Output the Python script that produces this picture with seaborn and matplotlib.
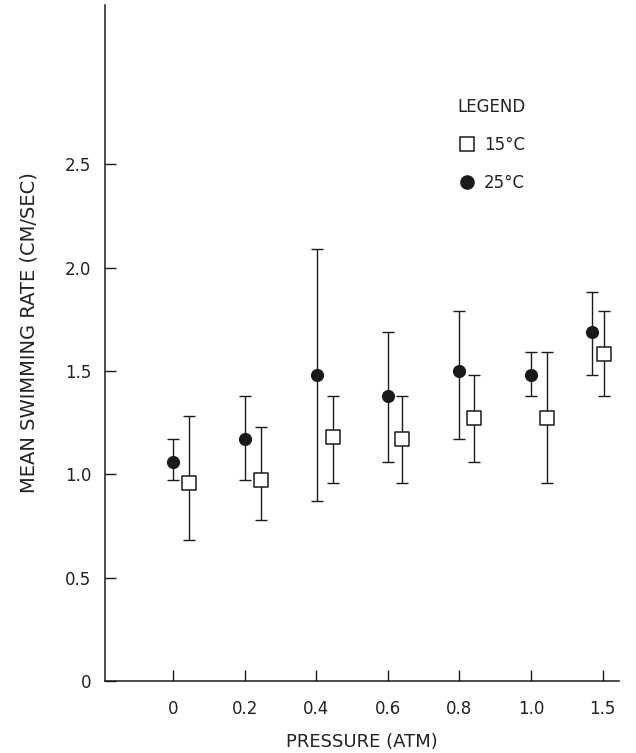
import numpy as np
import pandas as pd
import matplotlib
matplotlib.use("Agg")
import matplotlib.pyplot as plt
import seaborn as sns
from matplotlib.lines import Line2D

# ---- data ----
pressure_labels = ["0", "0.2", "0.4", "0.6", "0.8", "1.0", "1.5"]

rate_25 = [1.06, 1.17, 1.48, 1.38, 1.50, 1.48, 1.69]
low_25 = [0.97, 0.97, 0.87, 1.06, 1.17, 1.38, 1.48]
high_25 = [1.17, 1.38, 2.09, 1.69, 1.79, 1.59, 1.88]

rate_15 = [0.96, 0.97, 1.18, 1.17, 1.27, 1.27, 1.58]
low_15 = [0.68, 0.78, 0.96, 0.96, 1.06, 0.96, 1.38]
high_15 = [1.28, 1.23, 1.38, 1.38, 1.48, 1.59, 1.79]

y_ticks = [0, 0.5, 1.0, 1.5, 2.0, 2.5]
y_tick_labels = ["0", "0.5", "1.0", "1.5", "2.0", "2.5"]

series_labels = ["15°C", "25°C"]

# ---- layout (horizontal placement within each pressure group) ----
off_25 = np.array([0, 0, 0.01, 0, 0, 0, -0.15])
off_15 = np.array([0.22, 0.22, 0.23, 0.2, 0.21, 0.22, 0.02])

sns.set_style("ticks")
plt.rcParams["font.family"] = ["DejaVu Sans"]
ink = "#1a1a1a"
txt = "#222222"

fig = plt.figure(figsize=(6.36, 7.53), dpi=100)
ax = fig.add_axes([105 / 636, 72 / 753, 514 / 636, 676 / 753])

idx = np.arange(len(pressure_labels))
df25 = pd.DataFrame({"pos": idx + off_25, "rate": rate_25,
                     "low": low_25, "high": high_25})
df15 = pd.DataFrame({"pos": idx + off_15, "rate": rate_15,
                     "low": low_15, "high": high_15})

for df in (df25, df15):
    ax.errorbar(df["pos"], df["rate"],
                yerr=[df["rate"] - df["low"], df["high"] - df["rate"]],
                fmt="none", ecolor=ink, elinewidth=1.0, capsize=4.5,
                capthick=1.0, zorder=2)

sns.scatterplot(data=df25, x="pos", y="rate", marker="o", s=90,
                color=ink, edgecolor=ink, linewidth=0, zorder=3, ax=ax,
                legend=False)
sns.scatterplot(data=df15, x="pos", y="rate", marker="s", s=95,
                color="white", edgecolor=ink, linewidth=1.1, zorder=3, ax=ax,
                legend=False)

ax.set_xlim(-0.954, 6.23)
ax.set_ylim(0, 3.27)

ax.set_xticks(idx)
ax.set_xticklabels(pressure_labels)
ax.set_yticks(y_ticks)
ax.set_yticklabels(y_tick_labels)

ax.tick_params(axis="both", direction="in", length=8, width=1.0,
               colors=ink, labelcolor=txt, labelsize=12)
ax.tick_params(axis="x", pad=14)
ax.tick_params(axis="y", pad=10)

for s in ("top", "right"):
    ax.spines[s].set_visible(False)
for s in ("left", "bottom"):
    ax.spines[s].set_linewidth(1.1)
    ax.spines[s].set_color(ink)

ax.set_xlabel("PRESSURE (ATM)", fontsize=13, color=txt)
ax.set_ylabel("MEAN SWIMMING RATE (CM/SEC)", fontsize=14, color=txt)
ax.xaxis.set_label_coords(0.5, -0.077)
ax.yaxis.set_label_coords(-0.13, 0.515)

handles = [
    Line2D([], [], marker="s", linestyle="none", markersize=9.5,
           markerfacecolor="white", markeredgecolor=ink, markeredgewidth=1.1),
    Line2D([], [], marker="o", linestyle="none", markersize=9.5,
           markerfacecolor=ink, markeredgecolor=ink),
]
leg = ax.legend(handles=handles, labels=series_labels, title="LEGEND",
                loc="upper left", bbox_to_anchor=(446 / 636, 1 - 86 / 753),
                bbox_transform=fig.transFigure, frameon=False, fontsize=12,
                title_fontsize=12, labelspacing=1.2, handletextpad=0.5,
                handlelength=1.0, borderpad=0.2)
for t in leg.get_texts():
    t.set_color(txt)
leg.get_title().set_color(txt)

fig.savefig("out.png", dpi=100, facecolor="white")
